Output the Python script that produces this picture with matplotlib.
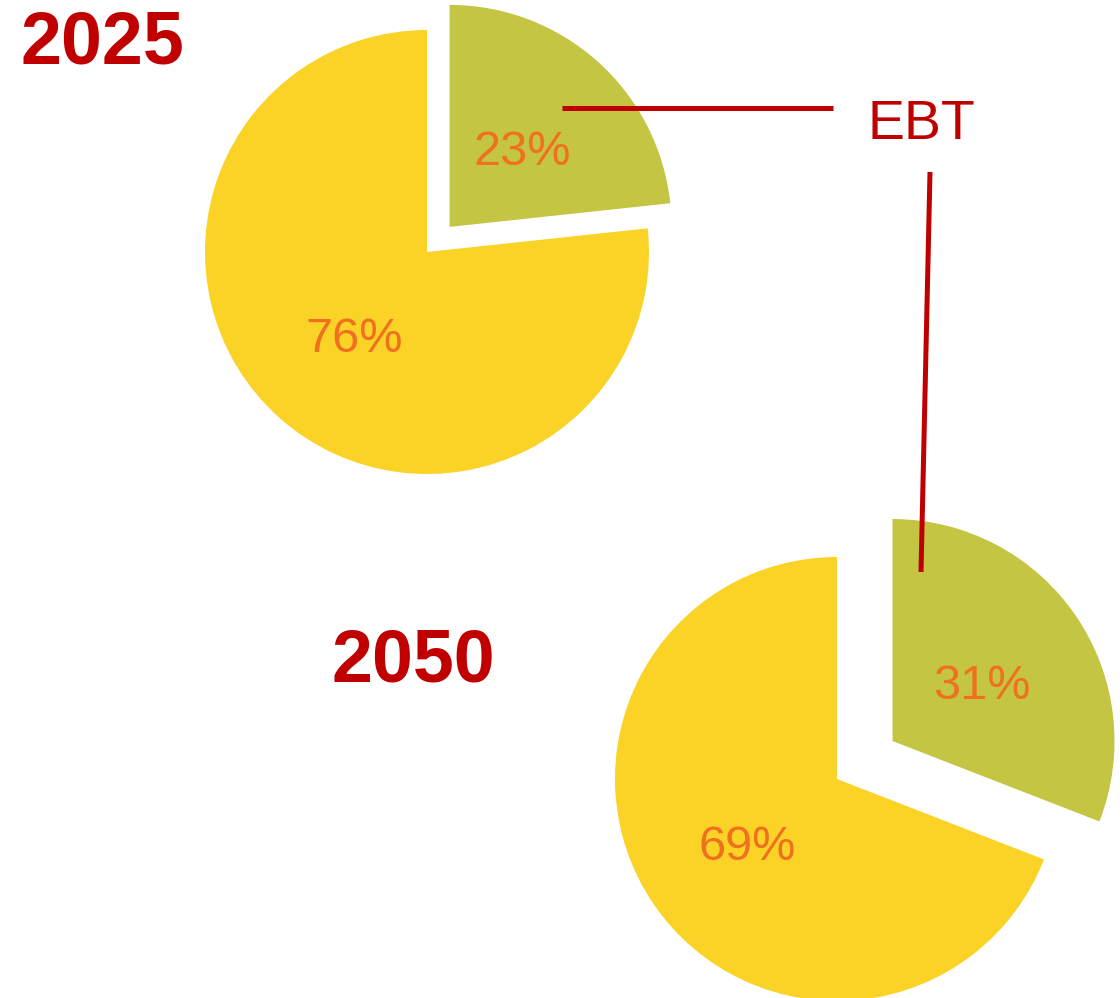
import matplotlib
matplotlib.use("Agg")
import matplotlib.pyplot as plt

plt.rcParams["font.family"] = ["Liberation Sans", "DejaVu Sans"]

# ---- data ----
years = ["2025", "2050"]
categories = ["EBT", "Other"]
shares_2025 = [23.3, 76.7]
shares_2050 = [30.9, 69.1]
labels_2025 = ["23%", "76%"]
labels_2050 = ["31%", "69%"]
callout = "EBT"

# ---- styling ----
W, H = 1120, 998
GREEN = "#C3C543"
YELLOW = "#FBD226"
ORANGE = "#F07020"
RED = "#C00000"

fig = plt.figure(figsize=(W / 100, H / 100), dpi=100)


def pie_at(cx, cy, r, values, labels, explode):
    ax = fig.add_axes([(cx - r) / W, (H - cy - r) / H, 2 * r / W, 2 * r / H])
    it = iter(labels)
    _, _, autotexts = ax.pie(values, colors=[GREEN, YELLOW], startangle=90,
                             counterclock=False, explode=[explode, 0],
                             autopct=lambda p: next(it), pctdistance=0.49,
                             radius=1, wedgeprops=dict(linewidth=0),
                             textprops=dict(color=ORANGE, fontsize=35))
    # nudge labels so the glyphs sit visually centred
    for t in autotexts:
        x, y = t.get_position()
        t.set_position((x, y - 7 / r))
    ax.set_xlim(-1, 1)
    ax.set_ylim(-1, 1)
    ax.set_aspect("equal")
    ax.axis("off")
    return ax


pie_at(427, 252, 222, shares_2025, labels_2025, 0.152)
pie_at(837, 779, 222, shares_2050, labels_2050, 0.303)

# overlay for titles and callout lines
ov = fig.add_axes([0, 0, 1, 1])
ov.set_xlim(0, W)
ov.set_ylim(H, 0)
ov.axis("off")
ov.patch.set_alpha(0)

ov.text(102, 63, years[0], color=RED, fontsize=53, fontweight="bold",
        ha="center", va="baseline")
ov.text(413, 682, years[1], color=RED, fontsize=53, fontweight="bold",
        ha="center", va="baseline")
ov.text(921, 139, callout, color=RED, fontsize=40, ha="center", va="baseline")

ov.plot([562, 833], [108, 108], color=RED, lw=3.6, solid_capstyle="butt")
ov.plot([930, 921], [172, 572], color=RED, lw=3.6, solid_capstyle="butt")

fig.savefig("out.png", dpi=100)
